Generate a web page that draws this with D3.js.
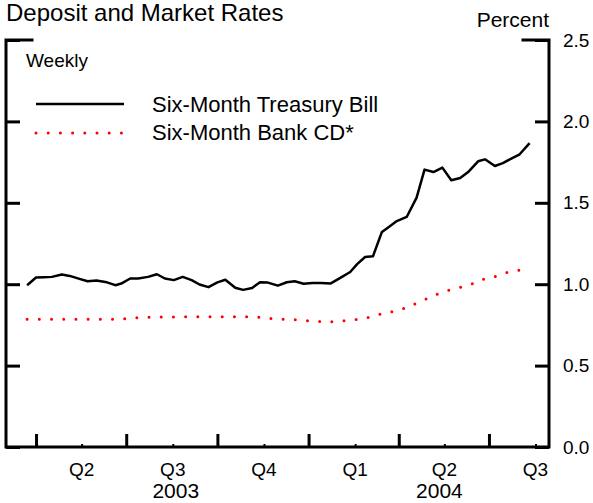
<!DOCTYPE html>
<html>
<head>
<meta charset="utf-8">
<script src="https://cdn.jsdelivr.net/npm/d3@7"></script>
<style>
  body { margin: 0; background: #fff; }
  text { font-family: Arial, "Liberation Sans", sans-serif; fill: #000; }
</style>
</head>
<body>
<script>
var dates = ["2003-03-23","2003-04-01","2003-04-09","2003-04-17","2003-04-27","2003-05-05","2003-05-14","2003-05-23","2003-06-01","2003-06-10",
  "2003-06-20","2003-06-26","2003-07-05","2003-07-13","2003-07-23","2003-08-01","2003-08-09","2003-08-18","2003-08-27","2003-09-05",
  "2003-09-13","2003-09-22","2003-10-01","2003-10-09","2003-10-19","2003-10-27","2003-11-05","2003-11-13","2003-11-21","2003-12-01",
  "2003-12-10","2003-12-18","2003-12-27","2004-01-05","2004-01-14","2004-01-23","2004-02-02","2004-02-12","2004-02-19","2004-02-27",
  "2004-03-06","2004-03-15","2004-03-22","2004-03-30","2004-04-09","2004-04-19","2004-04-27","2004-05-06","2004-05-15","2004-05-24",
  "2004-06-02","2004-06-10","2004-06-20","2004-06-27","2004-07-07","2004-07-15","2004-07-24","2004-08-01","2004-08-11"];

var billRates = [0.994,1.041,1.043,1.045,1.060,1.051,1.034,1.018,1.023,1.014,
  0.994,1.004,1.035,1.035,1.045,1.061,1.035,1.025,1.045,1.025,
  0.998,0.982,1.011,1.027,0.978,0.965,0.977,1.012,1.010,0.991,
  1.012,1.018,1.003,1.008,1.008,1.004,1.039,1.075,1.123,1.167,
  1.172,1.321,1.352,1.388,1.413,1.532,1.704,1.689,1.716,1.638,
  1.652,1.689,1.755,1.767,1.726,1.744,1.773,1.798,1.867];

var cdRates = [0.785,0.785,0.785,0.785,0.785,0.785,0.785,0.785,0.785,0.785,
  0.785,0.786,0.790,0.795,0.797,0.798,0.798,0.799,0.800,0.800,
  0.800,0.800,0.800,0.800,0.800,0.800,0.800,0.797,0.790,0.786,
  0.785,0.782,0.777,0.774,0.771,0.769,0.774,0.779,0.783,0.790,
  0.805,0.818,0.826,0.839,0.856,0.884,0.905,0.930,0.950,0.967,
  0.980,0.995,1.012,1.035,1.047,1.066,1.078,1.087,null];

var seriesNames = ["Six-Month Treasury Bill", "Six-Month Bank CD*"];
var yTicks = [0, 0.5, 1.0, 1.5, 2.0, 2.5];
var quarterLabels = ["Q2","Q3","Q4","Q1","Q2","Q3"];
var yearLabels = ["2003","2004"];
var yearLabelDates = ["2003-08-20","2004-05-12"];

var width = 593, height = 503;
var parse = d3.timeParse("%Y-%m-%d");

var svg = d3.select("body").append("svg")
    .attr("width", width)
    .attr("height", height);

var x = d3.scaleTime()
    .domain([new Date(2003, 2, 2), new Date(2004, 8, 1)])
    .range([6.3, 550.4]);

var y = d3.scaleLinear()
    .domain([0, 2.5])
    .range([447, 40]);

var plotLeft = 6, plotRight = 549, plotTop = 40, plotBottom = 447;

// title
svg.append("text")
    .attr("x", 6).attr("y", 21)
    .style("font-size", "24px")
    .text("Deposit and Market Rates");

svg.append("text")
    .attr("x", 549).attr("y", 27)
    .attr("text-anchor", "end")
    .style("font-size", "21px")
    .text("Percent");

// frame: left, bottom, right and short stubs at the top corners
svg.append("path")
    .attr("d", "M" + (plotLeft + 26) + "," + plotTop + "H" + plotLeft + "V" + plotBottom +
               "H" + plotRight + "V" + plotTop + "H" + (plotRight - 26))
    .attr("stroke", "#000")
    .attr("stroke-width", 3)
    .attr("fill", "none")
    .attr("stroke-linecap", "square");

// left y ticks (no labels)
svg.append("g")
    .attr("transform", "translate(" + plotLeft + ",0)")
    .call(d3.axisRight(y).tickValues(yTicks).tickSize(14).tickFormat(""))
    .call(function(g) {
      g.select(".domain").remove();
      g.selectAll("line").attr("stroke-width", 3);
    });

// right y axis with labels
svg.append("g")
    .attr("transform", "translate(" + plotRight + ",0)")
    .call(d3.axisRight(y).tickValues(yTicks).tickSizeInner(-14).tickSizeOuter(0)
      .tickPadding(14).tickFormat(d3.format(".1f")))
    .call(function(g) {
      g.select(".domain").remove();
      g.selectAll("line").attr("stroke-width", 3);
      g.selectAll("text").style("font-size", "19px")
        .style("font-family", "Arial, 'Liberation Sans', sans-serif");
    });

// x axis: quarter boundaries and mid-quarter minor ticks
var quarterStarts = d3.timeMonth.range(new Date(2003, 3, 1), new Date(2004, 8, 1), 3);
var quarterMids = quarterStarts.map(function(d) { return new Date(d.getFullYear(), d.getMonth() + 1, 17); });

svg.append("g")
    .attr("transform", "translate(0," + plotBottom + ")")
    .call(d3.axisBottom(x).tickValues(quarterStarts).tickSize(-13).tickFormat(""))
    .call(function(g) {
      g.select(".domain").remove();
      g.selectAll("line").attr("stroke-width", 3);
    });

svg.append("g")
    .attr("transform", "translate(0," + plotBottom + ")")
    .call(d3.axisBottom(x).tickValues(quarterMids).tickSize(-3).tickFormat(""))
    .call(function(g) {
      g.select(".domain").remove();
      g.selectAll("line").attr("stroke-width", 2);
    });

svg.selectAll(".qlabel")
    .data(quarterLabels)
  .enter().append("text")
    .attr("class", "qlabel")
    .attr("x", function(d, i) { return x(quarterMids[i]); })
    .attr("y", 476)
    .attr("text-anchor", "middle")
    .style("font-size", "19px")
    .text(function(d) { return d; });

svg.selectAll(".ylabel")
    .data(yearLabels)
  .enter().append("text")
    .attr("class", "ylabel")
    .attr("x", function(d, i) { return x(parse(yearLabelDates[i])); })
    .attr("y", 498)
    .attr("text-anchor", "middle")
    .style("font-size", "21px")
    .text(function(d) { return d; });

// data
var billData = dates.map(function(d, i) { return { date: parse(d), v: billRates[i] }; });
var cdData = dates.map(function(d, i) { return { date: parse(d), v: cdRates[i] }; });

var line = d3.line()
    .defined(function(d) { return d.v != null; })
    .x(function(d) { return x(d.date); })
    .y(function(d) { return y(d.v); });

svg.append("path")
    .datum(cdData)
    .attr("fill", "none")
    .attr("stroke", "#ff0000")
    .attr("stroke-width", 3)
    .attr("stroke-linecap", "round")
    .attr("stroke-dasharray", "0,12.2")
    .attr("d", line);

svg.append("path")
    .datum(billData)
    .attr("fill", "none")
    .attr("stroke", "#000")
    .attr("stroke-width", 2.5)
    .attr("stroke-linejoin", "round")
    .attr("d", line);

// legend
svg.append("text")
    .attr("x", 26).attr("y", 67)
    .style("font-size", "19px")
    .text("Weekly");

svg.append("line")
    .attr("x1", 36).attr("x2", 124).attr("y1", 104).attr("y2", 104)
    .attr("stroke", "#000").attr("stroke-width", 2.5);

svg.append("line")
    .attr("x1", 36).attr("x2", 124).attr("y1", 133).attr("y2", 133)
    .attr("stroke", "#ff0000").attr("stroke-width", 3)
    .attr("stroke-linecap", "round")
    .attr("stroke-dasharray", "0,12.2");

svg.selectAll(".legend")
    .data(seriesNames)
  .enter().append("text")
    .attr("class", "legend")
    .attr("x", 152)
    .attr("y", function(d, i) { return 112 + i * 28; })
    .style("font-size", "22px")
    .text(function(d) { return d; });
</script>
</body>
</html>
